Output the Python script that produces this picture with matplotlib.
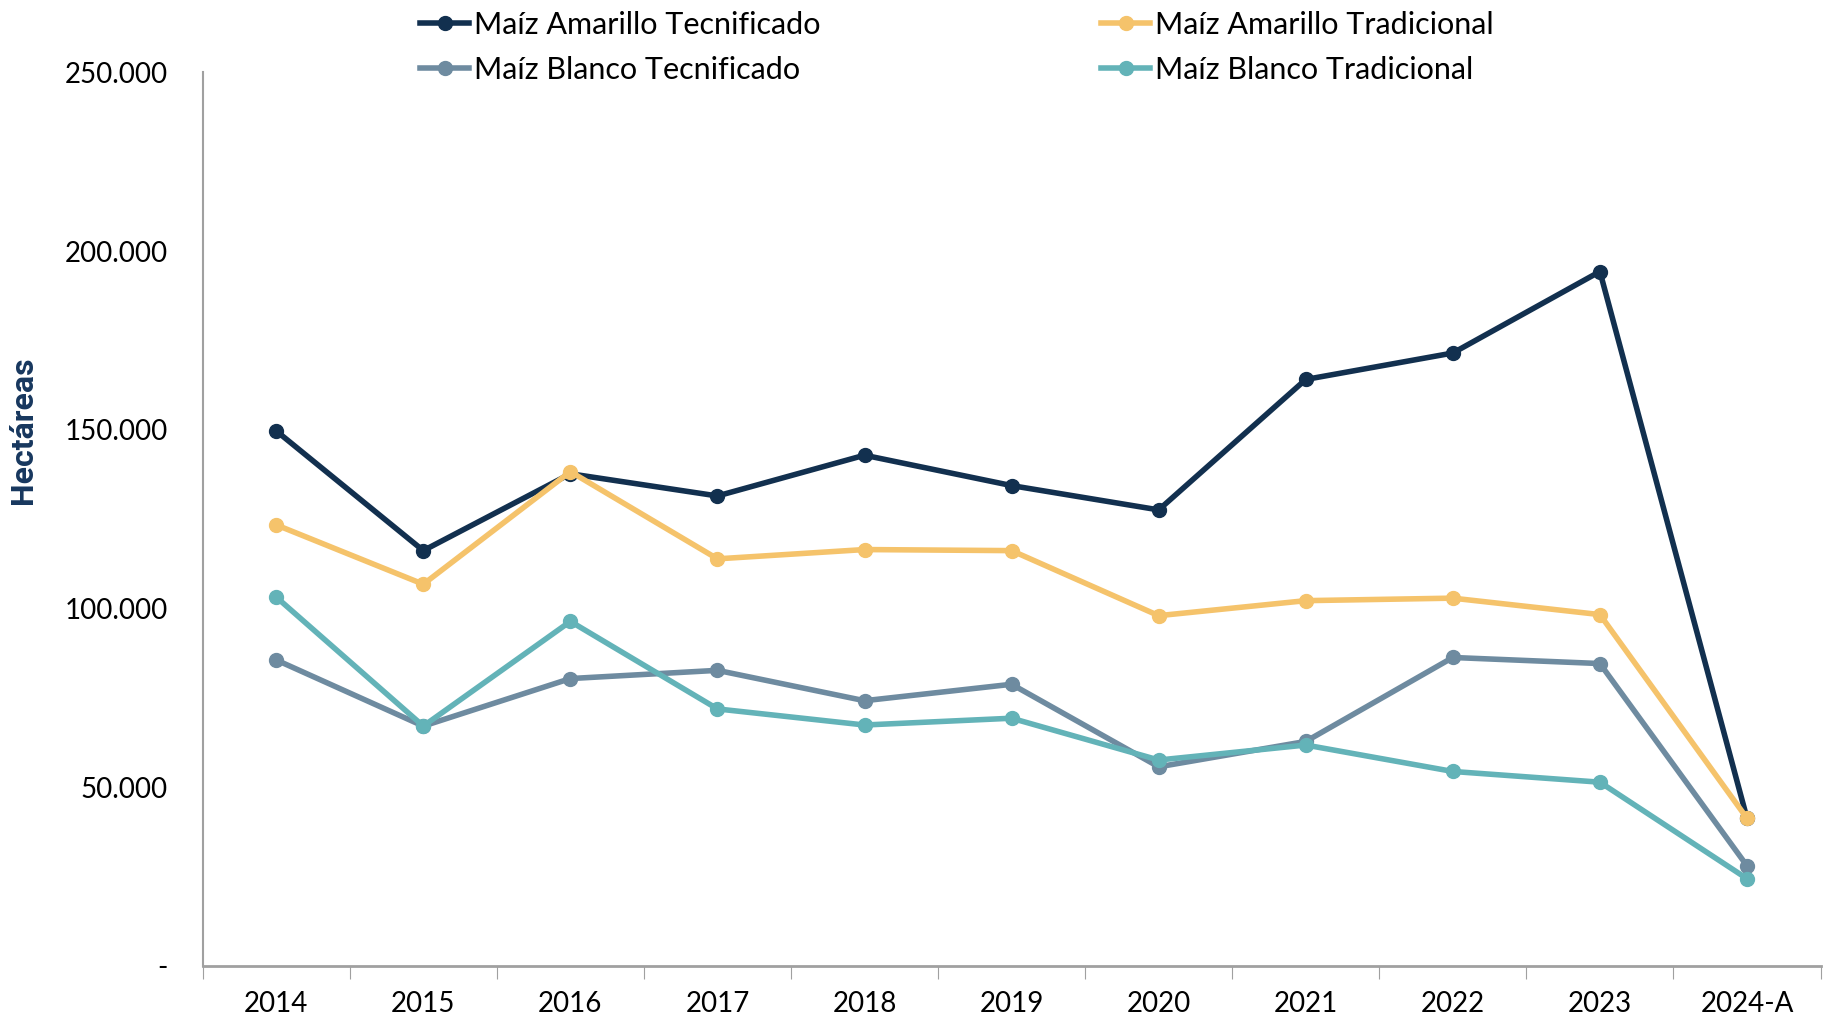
import matplotlib.pyplot as plt
import matplotlib.ticker as mticker
import numpy as np

years = ["2014", "2015", "2016", "2017", "2018", "2019", "2020", "2021", "2022", "2023", "2024-A"]

amarillo_tec = [149700, 116200, 137700, 131500, 142900, 134400, 127600, 164100, 171500, 194300, 41300]
amarillo_trad = [123400, 106800, 138300, 113900, 116500, 116200, 98000, 102200, 102900, 98300, 41300]
blanco_tec = [85600, 67100, 80400, 82700, 74200, 78800, 55700, 62800, 86300, 84600, 28000]
blanco_trad = [103200, 67100, 96400, 71900, 67400, 69300, 57600, 61800, 54400, 51400, 24400]

series = [
    ("Maíz Amarillo Tecnificado", amarillo_tec, "#12304f"),
    ("Maíz Amarillo Tradicional", amarillo_trad, "#f5c36b"),
    ("Maíz Blanco Tecnificado", blanco_tec, "#6e8ba0"),
    ("Maíz Blanco Tradicional", blanco_trad, "#63b3b8"),
]

plt.rcParams['font.family'] = ['Lato', 'DejaVu Sans']

fig = plt.figure(figsize=(18.26, 10.21), dpi=100)
ax = fig.add_axes([0.111, 0.054, 0.886, 0.875])

x = np.arange(len(years)) + 0.5
handles = []
for label, vals, color in series:
    h, = ax.plot(x, vals, '-o', color=color, lw=4, markersize=10, label=label)
    handles.append(h)

ax.set_xlim(0, len(years))
ax.set_ylim(0, 250000)

# category ticks between labels (Excel style)
ax.set_xticks(np.arange(len(years) + 1))
ax.set_xticklabels([])
ax.set_xticks(x, minor=True)
ax.set_xticklabels(years, minor=True)
ax.tick_params(axis='x', which='major', length=9, color='#a0a0a0', direction='out')
ax.tick_params(axis='x', which='minor', length=0, pad=18, labelsize=20)

ax.set_yticks(np.arange(0, 250001, 50000))
ax.yaxis.set_major_formatter(mticker.FuncFormatter(
    lambda v, p: "-" if v == 0 else f"{int(v):,}".replace(",", ".")))
ax.tick_params(axis='y', length=0, pad=25, labelsize=20)

for s in ['top', 'right']:
    ax.spines[s].set_visible(False)
ax.spines['left'].set_color('#a0a0a0')
ax.spines['bottom'].set_color('#a0a0a0')
ax.spines['left'].set_linewidth(1.5)
ax.spines['bottom'].set_linewidth(2)

ax.set_ylabel("Hectáreas", fontsize=23, fontweight='bold', color='#17375e',
              family=['Liberation Sans Narrow', 'Roboto', 'DejaVu Sans'])
ax.yaxis.set_label_coords(-0.102, 0.60)

order = [0, 2, 1, 3]
fig.legend([handles[i] for i in order], [series[i][0] for i in order],
           ncol=2, loc='upper left', bbox_to_anchor=(0.215, 1.016),
           frameon=False, fontsize=22, handlelength=1.6, handletextpad=0.15,
           columnspacing=9.2, labelspacing=0.55)

fig.savefig("out.png", dpi=100)
